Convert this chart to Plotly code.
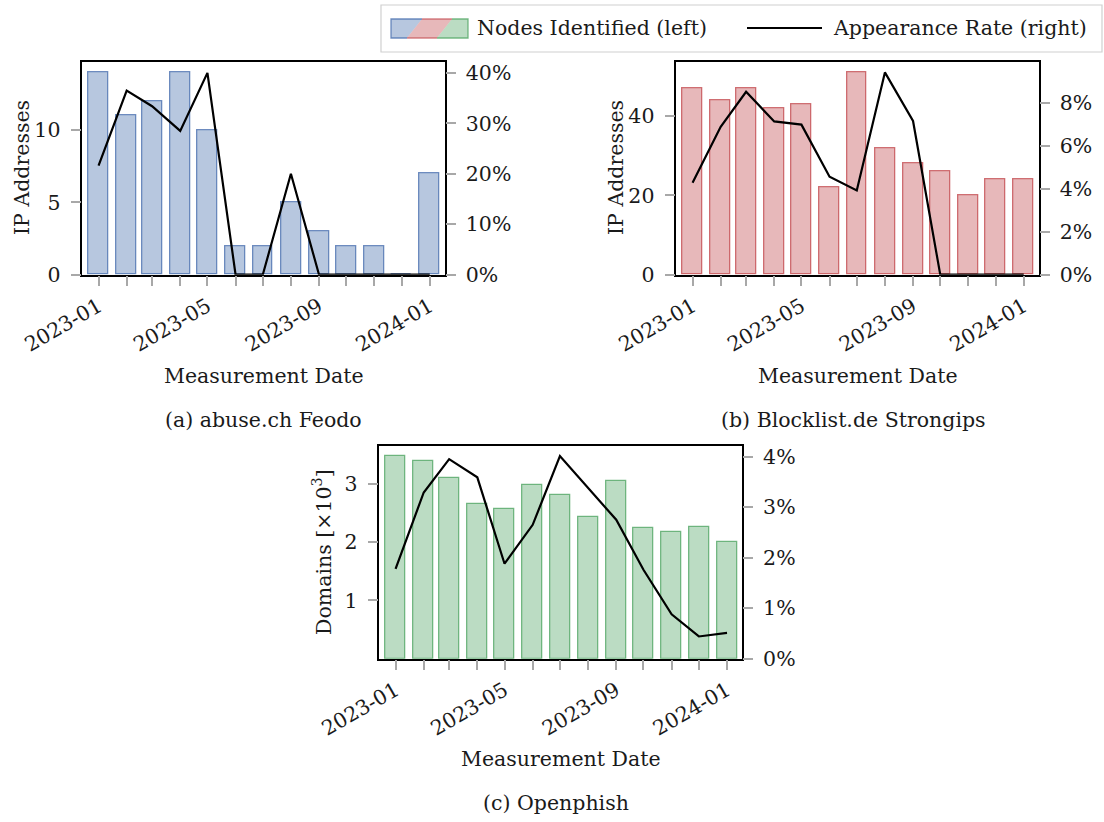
import plotly.graph_objects as go

# ---------------- data ----------------
months = ["2023-01-01", "2023-02-01", "2023-03-01", "2023-04-01", "2023-05-01",
          "2023-06-01", "2023-07-01", "2023-08-01", "2023-09-01", "2023-10-01",
          "2023-11-01", "2023-12-01", "2024-01-01"]
label_months = ["2023-01-01", "2023-05-01", "2023-09-01", "2024-01-01"]
tick_labels = ["2023-01", "2023-05", "2023-09", "2024-01"]

feodo_nodes = [14, 11, 12, 14, 10, 2, 2, 5, 3, 2, 2, 0, 7]
feodo_rate = [21.6, 36.5, 33.4, 28.5, 40.0, 0, 0, 20.0, 0, 0, 0, 0, 0]

strongips_nodes = [47, 44, 47, 42, 43, 22, 51, 32, 28, 26, 20, 24, 24]
strongips_rate = [4.28, 6.88, 8.51, 7.13, 6.98, 4.56, 3.92, 9.41, 7.15, 0, 0, 0, 0]

openphish_nodes = [3.467, 3.387, 3.095, 2.659, 2.562, 2.980, 2.802, 2.424, 3.037,
                   2.235, 2.172, 2.258, 2.000]
openphish_rate = [1.78, 3.29, 3.95, 3.59, 1.88, 2.65, 4.01, 3.39, 2.75, 1.76, 0.88, 0.44, 0.51]

left_ticks_a = [0, 5, 10]
right_ticks_a = [0, 10, 20, 30, 40]
left_ticks_b = [0, 20, 40]
right_ticks_b = [0, 2, 4, 6, 8]
left_ticks_c = [1, 2, 3]
right_ticks_c = [0, 1, 2, 3, 4]

# ---------------- styling ----------------
W, H = 1104, 822
FONT = "DejaVu Serif"
FS = 20.5
TXT = "#1a1a1a"
TICKC = "#a8a8a8"
BAR_W = 22 * 86400000
X_RANGE = ["2022-12-14 02:00", "2024-01-17 12:00"]

BLUE_FILL, BLUE_EDGE = "rgba(76,114,176,0.40)", "rgba(76,114,176,0.80)"
RED_FILL, RED_EDGE = "rgba(196,78,82,0.40)", "rgba(196,78,82,0.80)"
GREEN_FILL, GREEN_EDGE = "rgba(85,168,104,0.40)", "rgba(85,168,104,0.80)"


def px(x):
    return x / W


def py(y):
    return 1 - y / H


fig = go.Figure()

panels = [
    dict(nodes=feodo_nodes, rate=feodo_rate, fill=BLUE_FILL, edge=BLUE_EDGE,
         xd=[82.3, 444.7], yd=[62.3, 274.7], lr=[0, 14.7], rr=[0, 42.1],
         lt=left_ticks_a, rt=right_ticks_a),
    dict(nodes=strongips_nodes, rate=strongips_rate, fill=RED_FILL, edge=RED_EDGE,
         xd=[676.3, 1038.7], yd=[62.3, 274.7], lr=[0, 53.6], rr=[0, 9.88],
         lt=left_ticks_b, rt=right_ticks_b),
    dict(nodes=openphish_nodes, rate=openphish_rate, fill=GREEN_FILL, edge=GREEN_EDGE,
         xd=[379.3, 742.0], yd=[446.0, 658.7], lr=[0, 3.645], rr=[0, 4.21],
         lt=left_ticks_c, rt=right_ticks_c),
]

layout_axes = {}
for i, p in enumerate(panels):
    xn = "x" if i == 0 else f"x{i + 1}"
    yl_idx = 2 * i + 1
    yr_idx = 2 * i + 2
    yl = "y" if yl_idx == 1 else f"y{yl_idx}"
    yr = f"y{yr_idx}"

    fig.add_trace(go.Bar(x=months, y=p["nodes"], width=BAR_W, xaxis=xn, yaxis=yl,
                         marker=dict(color=p["fill"], line=dict(color=p["edge"], width=1.3)),
                         showlegend=False))
    fig.add_trace(go.Scatter(x=months, y=p["rate"], mode="lines", xaxis=xn, yaxis=yr,
                             line=dict(color="black", width=2.2), showlegend=False))

    xkey = "xaxis" if i == 0 else f"xaxis{i + 1}"
    ylkey = "yaxis" if yl_idx == 1 else f"yaxis{yl_idx}"
    yrkey = f"yaxis{yr_idx}"
    layout_axes[xkey] = dict(
        domain=[px(p["xd"][0]), px(p["xd"][1])], anchor=yl, type="date",
        range=X_RANGE, tickmode="array", tickvals=label_months, ticktext=tick_labels,
        tickangle=-30, ticks="outside", ticklen=10, tickwidth=1.5, tickcolor=TICKC,
        minor=dict(tickmode="array", tickvals=months, ticks="outside", ticklen=10,
                   tickwidth=1.5, tickcolor=TICKC, showgrid=False),
        showline=True, mirror=True, linecolor="black", linewidth=1.5, automargin=False,
        showgrid=False, zeroline=False, tickfont=dict(family=FONT, size=FS, color=TXT))
    layout_axes[ylkey] = dict(
        domain=[py(p["yd"][1]), py(p["yd"][0])], anchor=xn, range=p["lr"],
        tickmode="array", tickvals=p["lt"], ticktext=[str(v) for v in p["lt"]],
        ticks="outside", ticklen=10, tickwidth=1.5,
        tickcolor=TICKC, ticklabelstandoff=6, automargin=False,
        showline=True, mirror=True, linecolor="black", linewidth=1.5,
        showgrid=False, zeroline=False, tickfont=dict(family=FONT, size=FS, color=TXT))
    layout_axes[yrkey] = dict(
        overlaying=yl, side="right", anchor=xn, range=p["rr"],
        tickmode="array", tickvals=p["rt"], ticktext=[f"{v}%" for v in p["rt"]],
        ticks="outside", ticklen=10, automargin=False,
        tickwidth=1.5, tickcolor=TICKC, ticklabelstandoff=6,
        showline=False, showgrid=False, zeroline=False,
        tickfont=dict(family=FONT, size=FS, color=TXT))

fig.update_layout(**layout_axes)

# ---------------- texts ----------------
annots = []


def text(x, y, s, angle=0, xanchor="center"):
    annots.append(dict(x=px(x), y=py(y), xref="paper", yref="paper", text=s,
                       showarrow=False, textangle=angle, xanchor=xanchor, yanchor="middle",
                       font=dict(family=FONT, size=FS, color=TXT)))


text(263.5, 376, "Measurement Date")
text(857.5, 376, "Measurement Date")
text(560.7, 759, "Measurement Date")
text(22, 168, "IP Addresses", angle=-90)
text(616, 168, "IP Addresses", angle=-90)
text(322, 552, "Domains [×10<sup>3</sup>]", angle=-90)
text(263.5, 420, "(a) abuse.ch Feodo")
text(853.5, 420, "(b) Blocklist.de Strongips")
text(556, 803, "(c) Openphish")
text(475, 28, "Nodes Identified (left)", xanchor="left")
text(831, 28, "Appearance Rate (right)", xanchor="left")

# ---------------- legend box ----------------
shapes = []
shapes.append(dict(type="rect", xref="paper", yref="paper", x0=px(381), x1=px(1102),
                   y0=py(52), y1=py(5), line=dict(color="#d0d0d0", width=1.2),
                   fillcolor="white", layer="below"))


def poly(pts, fill):
    path = "M " + " L ".join(f"{px(a):.5f},{py(b):.5f}" for a, b in pts) + " Z"
    shapes.append(dict(type="path", xref="paper", yref="paper", path=path,
                       fillcolor=fill, line=dict(width=0)))


def open_path(pts, color):
    path = "M " + " L ".join(f"{px(a):.5f},{py(b):.5f}" for a, b in pts)
    shapes.append(dict(type="path", xref="paper", yref="paper", path=path,
                       line=dict(color=color, width=1.3)))


poly([(391, 19), (422, 19), (407, 38), (391, 38)], BLUE_FILL)
poly([(422, 19), (452, 19), (437, 38), (407, 38)], RED_FILL)
poly([(452, 19), (468, 19), (468, 38), (437, 38)], GREEN_FILL)
open_path([(407, 38), (391, 38), (391, 19), (422, 19)], BLUE_EDGE)
open_path([(422, 19), (452, 19)], RED_EDGE)
open_path([(407, 38), (437, 38)], RED_EDGE)
open_path([(452, 19), (468, 19), (468, 38), (437, 38)], GREEN_EDGE)
shapes.append(dict(type="line", xref="paper", yref="paper", x0=px(747), x1=px(822),
                   y0=py(28), y1=py(28), line=dict(color="black", width=2.2)))

fig.update_layout(
    width=W, height=H, autosize=False,
    margin=dict(l=0, r=0, t=0, b=0, autoexpand=False),
    paper_bgcolor="white", plot_bgcolor="white",
    font=dict(family=FONT, size=FS, color=TXT),
    showlegend=False, bargap=0,
    annotations=annots, shapes=shapes,
)

fig.write_html("out.html", config={"displayModeBar": False},
               post_script="document.body.style.margin='0';")
